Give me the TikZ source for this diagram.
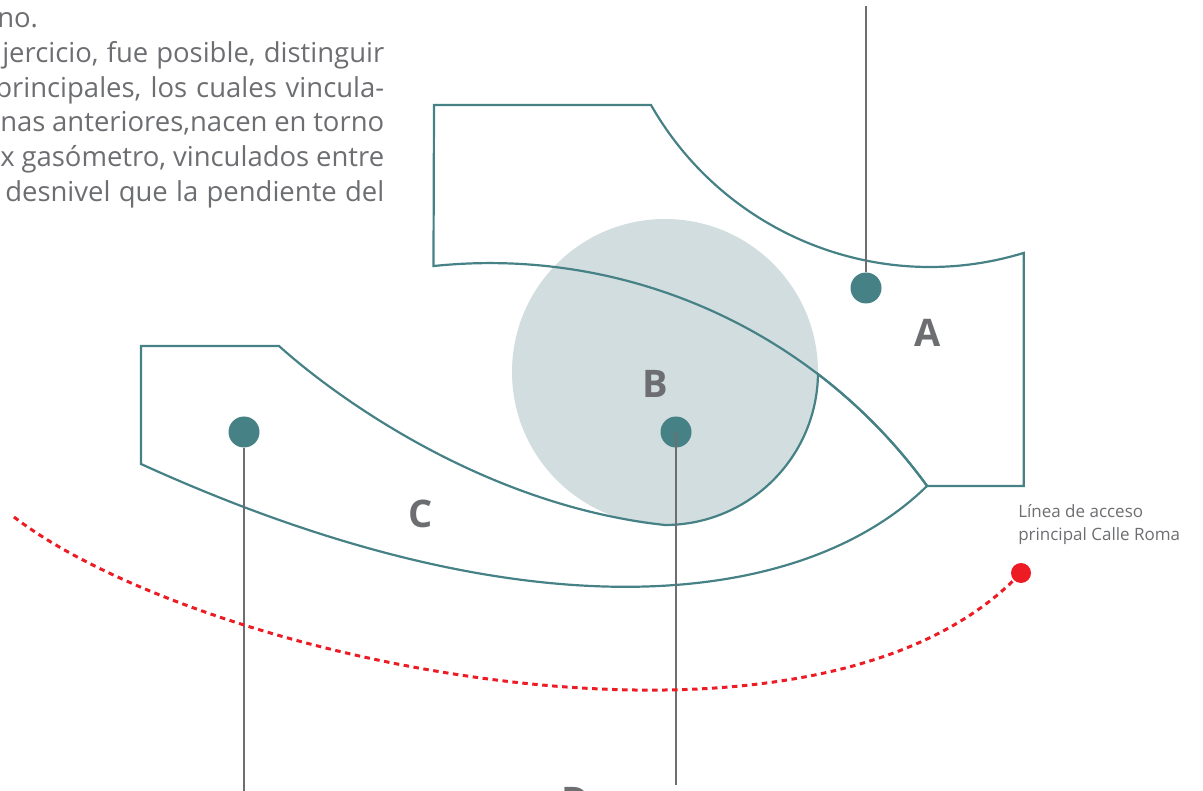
\documentclass[tikz,border=0pt]{standalone}
\usepackage{fontspec}
\setmainfont{Open Sans}
\usetikzlibrary{positioning}
\definecolor{tc}{RGB}{70,129,134}
\definecolor{fc}{RGB}{209,221,223}
\definecolor{gc}{RGB}{109,110,113}
\definecolor{rc}{RGB}{237,28,36}
\tikzset{zone/.style={draw=tc,line width=1.65pt},
 pin/.style={circle,fill=tc,inner sep=0pt,minimum size=23.25pt},
 lead/.style={draw=gc,line width=1.5pt},
 tag/.style={text=gc,inner sep=0pt,font=\fontsize{28.5}{30}\selectfont\bfseries},
 txt/.style={text=gc,inner sep=0pt,anchor=base west,font=\fontsize{20.6}{24}\selectfont},
 note/.style={text=gc,inner sep=0pt,anchor=base west,font=\fontsize{12.75}{16}\selectfont},
 route/.style={draw=rc,line width=2.25pt,dash pattern=on 4.1pt off 3.4pt},
 dot/.style={circle,fill=rc,inner sep=0pt,minimum size=15pt}}

\begin{document}
\begin{tikzpicture}[x=.75pt,y=-.75pt]
\useasboundingbox (0,0) rectangle (1203,791);
\node[txt] (t1) at (-3,28) {no.};
\node[txt] (t2) at (2,63) {\makebox[286.5pt][s]{jercicio, fue posible, distinguir}};
\node[txt] (t3) at (-5,98) {\makebox[291.75pt][s]{principales, los cuales vincula-}};
\node[txt] (t4) at (0,132) {\makebox[288pt][s]{nas anteriores,nacen en torno}};
\node[txt] (t5) at (0,167) {\makebox[288pt][s]{x gasómetro, vinculados entre}};
\node[txt] (t6) at (5,202) {\makebox[284.25pt][s]{desnivel que la pendiente del}};
\fill[fc] (665,372) circle[radius=153];
\draw[zone] (434,105)--(651,105) arc[start angle=150.3,end angle=73,radius=321] |- (927,486)
 arc[start angle=-35.96,end angle=-96,radius=540] --cycle;
\draw[zone] (141,346)--(279,346) .. controls (330,392) and (480,505) .. (665,525)
 arc[start angle=90,end angle=0.75,radius=153] arc[start angle=-52.6,end angle=-35.96,radius=540]
 .. controls (805,606) and (532,642) .. (141,464) --cycle;
\node[tag] (la) at (928,333) {A};\node[tag] (lb) at (655,384) {B};
\node[tag] (lc) at (421,514) {C};\node[tag,anchor=north] (ld) at (576,787) {D};
\node[pin] (pa) at (866,288) {};\node[pin] (pc) at (244,432) {};\node[pin] (pb) at (676,432) {};
\coordinate (ea) at (866,6);\coordinate (ec) at (244,800);\coordinate (eb) at (676,785);
\draw[lead] (ea)--(pa);\draw[lead] (pc)--(ec);\draw[lead] (pb.center)--(eb);
\node[dot] (rd) at (1021,573) {};\coordinate (rs) at (14,517);
\draw[route] (rs) .. controls (200,660) and (800,790) .. (rd);
\node[note] (n1) at (1018,517) {Línea de acceso};
\node[note] (n2) at (1018,540) {principal Calle Roma};
\end{tikzpicture}
\end{document}
